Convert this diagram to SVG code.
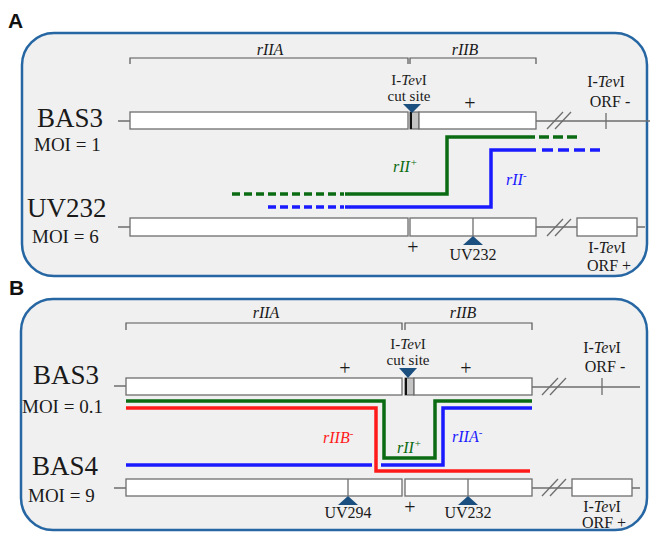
<svg xmlns="http://www.w3.org/2000/svg" width="650" height="534" viewBox="0 0 650 534">
<style>
.panel{fill:#f0f0f0;stroke:#2566a3;stroke-width:2.5}
.box{fill:#ffffff;stroke:#6e6e6e;stroke-width:1.3}
.ln{fill:none;stroke:#6e6e6e;stroke-width:1.3}
.br{fill:none;stroke:#555555;stroke-width:1.2}
.cut{fill:#c4c4c4;stroke:#555555;stroke-width:1}
.tri{fill:#1b4f80}
.t{font-family:"Liberation Serif","Times New Roman",serif;fill:#1a1a1a}
.it{font-style:italic}
.big{font-size:27px}
.moi{font-size:19px}
.sm{font-size:16px}
.cs{font-size:15px}
.pl{font-size:20px}
.lab{font-family:"Liberation Sans",Arial,sans-serif;font-weight:bold;font-size:21px;fill:#111}
.g{fill:none;stroke:#0b6b12;stroke-width:3.5}
.b{fill:none;stroke:#1a1aff;stroke-width:3.5}
.r{fill:none;stroke:#ff1a1a;stroke-width:3.5}
</style>

<g id="panelA">
<text class="lab" x="8" y="28">A</text>
<rect class="panel" x="22" y="33" width="625" height="243" rx="32"/>
</g>
<g id="panelB">
<text class="lab" x="9" y="295">B</text>
<rect class="panel" x="21" y="299" width="626" height="231" rx="32"/>
</g>

<!-- Panel A -->
<g id="A-brackets">
<path class="br" d="M130,64 V58 H408 V64 M410,64 V58 H536 V64"/>
<text class="t it sm" x="270" y="55" text-anchor="middle">rIIA</text>
<text class="t it sm" x="465" y="55" text-anchor="middle">rIIB</text>
</g>

<g id="A-BAS3">
<text class="t big" x="37" y="127">BAS3</text>
<text class="t moi" x="34" y="151">MOI = 1</text>
<path class="ln" d="M118,121 H130 M536,121 H650 M606,113 V129"/>
<rect class="box" x="130" y="112" width="278" height="17"/>
<rect class="cut" x="410" y="112" width="9" height="17"/>
<line x1="411" y1="112" x2="411" y2="129" stroke="#111" stroke-width="2"/>
<rect class="box" x="419" y="112" width="117" height="17"/>
<path class="ln" d="M547,129 L563,112 M555,129 L571,112"/>
<polygon class="tri" points="403,104 421,104 412,113"/>
<text class="t cs" x="409" y="85" text-anchor="middle">I-<tspan class="it">Tev</tspan>I</text>
<text class="t cs" x="409" y="101" text-anchor="middle">cut site</text>
<text class="t pl" x="470" y="110" text-anchor="middle">+</text>
<text class="t sm" x="606" y="87" text-anchor="middle">I-<tspan class="it">Tev</tspan>I</text>
<text class="t sm" x="610" y="107" text-anchor="middle">ORF -</text>
</g>

<g id="A-UV232">
<text class="t big" x="27" y="217">UV232</text>
<text class="t moi" x="32" y="243">MOI = 6</text>
<path class="ln" d="M118,227 H130 M536,227 H577 M637,227 H645"/>
<rect class="box" x="130" y="218" width="278" height="18"/>
<rect class="box" x="410" y="218" width="126" height="18"/>
<line class="ln" x1="473" y1="218" x2="473" y2="236"/>
<polygon class="tri" points="463,245 483,245 473,236"/>
<path class="ln" d="M547,236 L563,219 M555,236 L571,219"/>
<rect class="box" x="577" y="218" width="60" height="18"/>
<text class="t pl" x="413" y="254" text-anchor="middle">+</text>
<text class="t sm" x="473" y="260" text-anchor="middle">UV232</text>
<text class="t sm" x="607" y="253" text-anchor="middle">I-<tspan class="it">Tev</tspan>I</text>
<text class="t sm" x="609" y="271" text-anchor="middle">ORF +</text>
</g>

<g id="A-connectors">
<path class="g" d="M232,194 H344" stroke-dasharray="8 4"/>
<path class="g" d="M345,194 H447 V137 H535"/>
<path class="g" d="M539,137 H580" stroke-dasharray="10 4"/>
<path class="b" d="M268,207 H344" stroke-dasharray="8 4"/>
<path class="b" d="M345,207 H491 V150 H536"/>
<path class="b" d="M542,150 H600" stroke-dasharray="11 5"/>
<text class="t it sm" x="393" y="172" style="fill:#0b6b12">rII<tspan dy="-6" font-size="11">+</tspan></text>
<text class="t it sm" x="506" y="185" style="fill:#1a1aff">rII<tspan dy="-6" font-size="11">-</tspan></text>
</g>

<!-- Panel B -->
<g id="B-brackets">
<path class="br" d="M126,330 V323 H402 V330 M405,330 V323 H532 V330"/>
<text class="t it sm" x="266" y="318" text-anchor="middle">rIIA</text>
<text class="t it sm" x="463" y="318" text-anchor="middle">rIIB</text>
</g>

<g id="B-BAS3">
<text class="t big" x="33" y="384">BAS3</text>
<text class="t moi" x="22" y="413">MOI = 0.1</text>
<path class="ln" d="M114,386 H126 M532,387 H640 M602,378 V395"/>
<rect class="box" x="126" y="378" width="276" height="17"/>
<rect class="cut" x="405" y="378" width="9" height="17"/>
<line x1="406" y1="378" x2="406" y2="395" stroke="#111" stroke-width="2"/>
<rect class="box" x="414" y="378" width="118" height="17"/>
<path class="ln" d="M542,395 L558,378 M550,395 L566,378"/>
<polygon class="tri" points="399,368 417,368 408,378"/>
<text class="t cs" x="408" y="349" text-anchor="middle">I-<tspan class="it">Tev</tspan>I</text>
<text class="t cs" x="408" y="365" text-anchor="middle">cut site</text>
<text class="t pl" x="345" y="375" text-anchor="middle">+</text>
<text class="t pl" x="466" y="375" text-anchor="middle">+</text>
<text class="t sm" x="602" y="353" text-anchor="middle">I-<tspan class="it">Tev</tspan>I</text>
<text class="t sm" x="605" y="372" text-anchor="middle">ORF -</text>
</g>

<g id="B-BAS4">
<text class="t big" x="32" y="475">BAS4</text>
<text class="t moi" x="28" y="502">MOI = 9</text>
<path class="ln" d="M114,488 H126 M532,488 H572 M632,488 H640"/>
<rect class="box" x="126" y="479" width="276" height="17"/>
<rect class="box" x="405" y="479" width="127" height="17"/>
<line class="ln" x1="348" y1="479" x2="348" y2="496"/>
<line class="ln" x1="468" y1="479" x2="468" y2="496"/>
<polygon class="tri" points="338,505 358,505 348,496"/>
<polygon class="tri" points="458,505 478,505 468,496"/>
<path class="ln" d="M542,496 L558,479 M550,496 L566,479"/>
<rect class="box" x="572" y="479" width="60" height="17"/>
<text class="t sm" x="348" y="518" text-anchor="middle">UV294</text>
<text class="t pl" x="410" y="514" text-anchor="middle">+</text>
<text class="t sm" x="468" y="518" text-anchor="middle">UV232</text>
<text class="t sm" x="602" y="512" text-anchor="middle">I-<tspan class="it">Tev</tspan>I</text>
<text class="t sm" x="604" y="528" text-anchor="middle">ORF +</text>
</g>

<g id="B-connectors">
<path class="g" d="M126,401 H384 V458 H435 V401 H532"/>
<path class="r" d="M126,408 H376 V471 H530"/>
<path class="b" d="M126,465 H372 M381,465 H443 V408 H532"/>
<text class="t it sm" x="323" y="443" style="fill:#ff1a1a">rIIB<tspan dy="-6" font-size="11">-</tspan></text>
<text class="t it sm" x="397" y="453" style="fill:#0b6b12">rII<tspan dy="-6" font-size="11">+</tspan></text>
<text class="t it sm" x="452" y="442" style="fill:#1a1aff">rIIA<tspan dy="-6" font-size="11">-</tspan></text>
</g>
</svg>
